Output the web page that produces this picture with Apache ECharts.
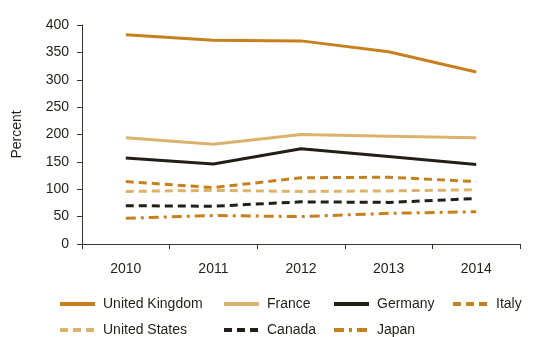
<!DOCTYPE html>
<html>
<head>
<meta charset="utf-8">
<script src="https://cdn.jsdelivr.net/npm/echarts@6/dist/echarts.min.js"></script>
<style>
  html, body { margin: 0; padding: 0; background: #fff; }
  #chart { width: 560px; height: 337px; }
</style>
</head>
<body>
<div id="chart"></div>
<script>
  const years = ['2010', '2011', '2012', '2013', '2014']
  const unitedKingdom = [382, 372, 371, 351, 314]
  const france = [194, 182, 200, 197, 194]
  const germany = [157, 146, 174, 160, 145]
  const italy = [114, 103, 121, 122, 114]
  const unitedStates = [96, 98, 96, 97, 99]
  const canada = [70, 69, 77, 76, 83]
  const japan = [47, 52, 50, 56, 59]

  const orange = '#c8801f'
  const tan = '#dcb36a'
  const dark = '#231f16'
  const textColor = '#231f16'

  function line (name, data, color, type) {
    return {
      name: name,
      type: 'line',
      data: data,
      symbol: 'none',
      color: color,
      lineStyle: { color: color, width: 3, type: type }
    }
  }

  const legendBase = {
    orient: 'vertical',
    top: 297,
    height: 60,
    padding: 0,
    itemWidth: 35,
    itemHeight: 14,
    itemGap: 12,
    itemStyle: { opacity: 0 },
    lineStyle: { width: 4 },
    textStyle: { color: textColor, fontSize: 14, fontFamily: 'Liberation Sans', padding: [0, 0, 0, 3] }
  }

  const chart = echarts.init(document.getElementById('chart'))
  chart.setOption({
    animation: false,
    textStyle: { fontFamily: 'Liberation Sans' },
    grid: { left: 82, right: 40, top: 25, bottom: 93 },
    legend: [
      Object.assign({}, legendBase, { left: 58, data: ['United Kingdom', 'United States'] }),
      Object.assign({}, legendBase, { left: 222, data: ['France', 'Canada'] }),
      Object.assign({}, legendBase, { left: 332, data: ['Germany', 'Japan'] }),
      Object.assign({}, legendBase, { left: 451, data: ['Italy'] })
    ],
    xAxis: {
      type: 'category',
      data: years,
      boundaryGap: true,
      axisLine: { lineStyle: { color: '#3a3328', width: 1 } },
      axisTick: { show: true, length: 5, lineStyle: { color: '#3a3328' } },
      axisLabel: { color: textColor, fontSize: 14, margin: 18 }
    },
    yAxis: {
      type: 'value',
      min: 0,
      max: 400,
      interval: 50,
      name: 'Percent',
      nameLocation: 'middle',
      nameGap: 58,
      nameRotate: 90,
      nameTextStyle: { color: textColor, fontSize: 14 },
      splitLine: { show: false },
      axisLine: { show: true, lineStyle: { color: '#3a3328', width: 1 } },
      axisTick: { show: true, length: 5, lineStyle: { color: '#3a3328' } },
      axisLabel: { color: textColor, fontSize: 14, margin: 13 }
    },
    series: [
      line('United Kingdom', unitedKingdom, orange, 'solid'),
      line('France', france, tan, 'solid'),
      line('Germany', germany, dark, 'solid'),
      line('Italy', italy, orange, [8, 5]),
      line('United States', unitedStates, tan, [8, 5]),
      line('Canada', canada, dark, [8, 5]),
      line('Japan', japan, orange, [10, 5, 3, 5])
    ]
  })
</script>
</body>
</html>
